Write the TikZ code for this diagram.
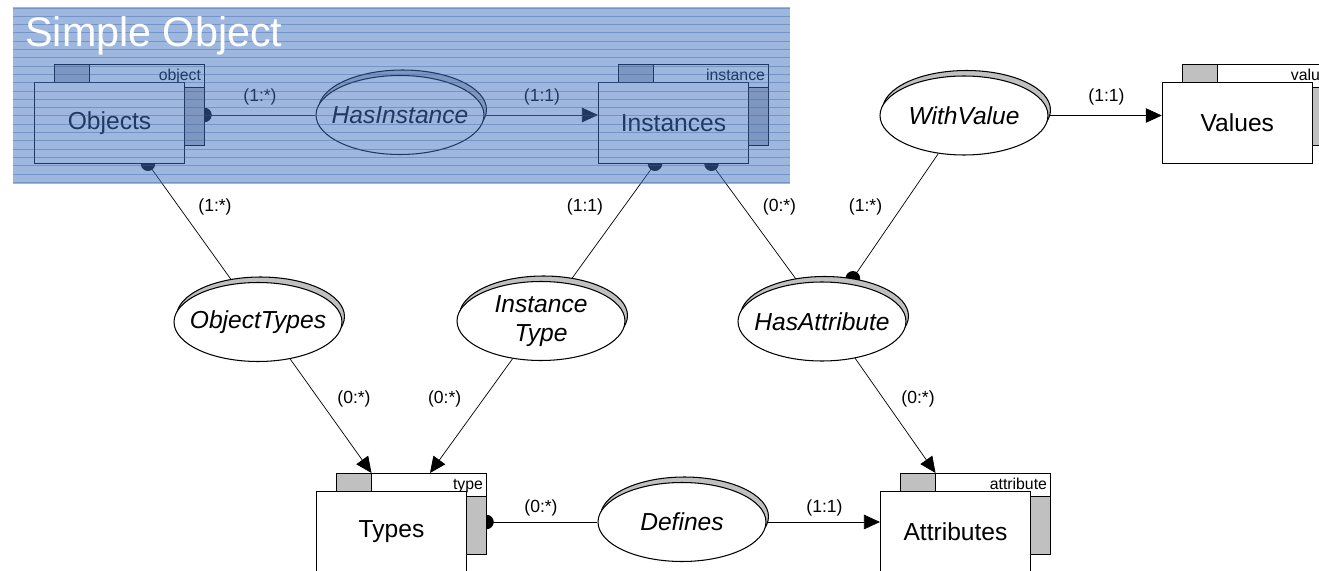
\documentclass[tikz,border=0pt]{standalone}
\usepackage{fontspec}
\setmainfont{Liberation Sans}
\usetikzlibrary{shapes.geometric,arrows.meta,calc}
\definecolor{tabgray}{HTML}{C0C0C0}
\definecolor{veil}{RGB}{62,112,192}
\definecolor{stripe}{RGB}{55,95,165}
\pgfdeclarelayer{links}
\pgfsetlayers{links,main}

% entity: name, x, y, text, tag
\newcommand{\entity}[5]{%
  \begin{scope}[shift={(#2,#3)}]
    \draw[fill=white] (-55,-58.5) rectangle (95,22.5);
    \draw[fill=tabgray] (-55,-58.5) rectangle (-20,-40.5);
    \draw[fill=tabgray] (75,-35.5) rectangle (95,22.5);
    \node[tag] (#1-tag) at (92,-42.5) {#5};
    \coordinate (#1-r) at (95,0);
    \node[ent] (#1) at (0,0) {#4};
  \end{scope}}
% relation: name, x, y, text
\newcommand{\relation}[4]{%
  \begin{scope}[shift={(#2,#3)}]
    \node[relsh] (#1-sh) at (2.5,-5.5) {};
    \node[rel] (#1) at (0,0) {#4};
  \end{scope}}

\begin{document}
\begin{tikzpicture}[x=0.02cm, y=-0.02cm, line width=0.6pt,
  ent/.style={draw, fill=white, minimum width=3cm, minimum height=1.62cm, inner sep=0, font=\fontsize{14}{17}\selectfont},
  tag/.style={anchor=base east, inner sep=0, font=\fontsize{9}{11}\selectfont},
  rel/.style={ellipse, draw, fill=white, minimum width=3.36cm, minimum height=1.58cm, inner xsep=-0.4cm, inner ysep=-0.2cm, align=center, font=\fontsize{14}{16.5}\selectfont\itshape},
  relsh/.style={ellipse, draw, fill=tabgray, minimum width=3.36cm, minimum height=1.58cm, inner sep=0},
  card/.style={inner sep=0, font=\fontsize{10}{12}\selectfont},
  arr/.style={-{Triangle[length=3.2mm, width=2.9mm]}},
  title/.style={anchor=base west, inner sep=0, text=white, font=\fontsize{23.5}{28}\selectfont}]
\useasboundingbox (0,0) rectangle (1319,571);
\clip (0,0) rectangle (1319,571);

% entities
\entity{Objects}{109.5}{122.75}{Objects}{object}
\entity{Instances}{673.5}{122.75}{Instances}{instance}
\entity{Values}{1237.3}{122.75}{Values}{value}
\entity{Types}{391.5}{532}{Types}{type}
\entity{Attributes}{955.5}{532}{Attributes}{attribute}

% relations
\relation{HasInstance}{400}{115}{HasInstance}
\relation{WithValue}{964}{115.5}{WithValue}
\relation{ObjectTypes}{258}{322}{ObjectTypes}
\relation{InstanceType}{541}{321}{Instance\\Type}
\relation{HasAttribute}{822}{321.5}{HasAttribute}
\relation{Defines}{682}{522}{Defines}

% connectors
\begin{pgfonlayer}{links}
\fill (Objects-r |- HasInstance) circle (1.45mm);
\draw (Objects-r |- HasInstance) -- (HasInstance);
\draw[arr] (HasInstance) -- (Instances.west |- HasInstance);
\draw[arr] (WithValue) -- (Values.west |- WithValue);

\coordinate (o1) at ($(Objects.south)+(38.5,0)$);
\fill (o1) circle (1.45mm);
\draw (o1) -- (ObjectTypes.122);
\draw[arr] (ObjectTypes.-49) -- ($(Types.north)+(-20,-18)$);

\coordinate (i1) at ($(Instances.south)+(-18.5,0)$);
\fill (i1) circle (1.45mm);
\draw (i1) -- (InstanceType.54);
\draw[arr] (InstanceType.-127) -- ($(Types.north)+(38.5,-18)$);

\coordinate (i2) at ($(Instances.south)+(38,0)$);
\fill (i2) circle (1.45mm);
\draw (i2) -- (HasAttribute.121);
\fill (HasAttribute-sh.53) circle (1.45mm);
\draw (WithValue.-124) -- (HasAttribute-sh.53);
\draw[arr] (HasAttribute.-48) -- ($(Attributes.north)+(-20,-18)$);

\fill (Types-r |- Defines) circle (1.45mm);
\draw (Types-r |- Defines) -- (Defines);
\draw[arr] (Defines) -- (Attributes.west |- Defines);
\end{pgfonlayer}

% cardinalities
\node[card] (k1) at (260,97) {(1:*)};
\node[card] (k2) at (542,97) {(1:1)};
\node[card] (k3) at (1106.5,97) {(1:1)};
\node[card] (k4) at (215,207) {(1:*)};
\node[card] (k5) at (585,207) {(1:1)};
\node[card] (k6) at (779.5,207) {(0:*)};
\node[card] (k7) at (865.5,207) {(1:*)};
\node[card] (k8) at (354,399) {(0:*)};
\node[card] (k9) at (444.7,399) {(0:*)};
\node[card] (k10) at (918,399) {(0:*)};
\node[card] (k11) at (541,507.5) {(0:*)};
\node[card] (k12) at (824.5,507.5) {(1:1)};

% highlighted area
\fill[veil, opacity=0.5] (13,7) rectangle (790,184);
\foreach \yy in {8,16.3,...,184}
  \draw[stripe, line width=0.5pt, opacity=0.4] (13,\yy) -- (790,\yy);
\node[title] (ttl) at (25,46.7) {Simple Object};
\end{tikzpicture}
\end{document}
